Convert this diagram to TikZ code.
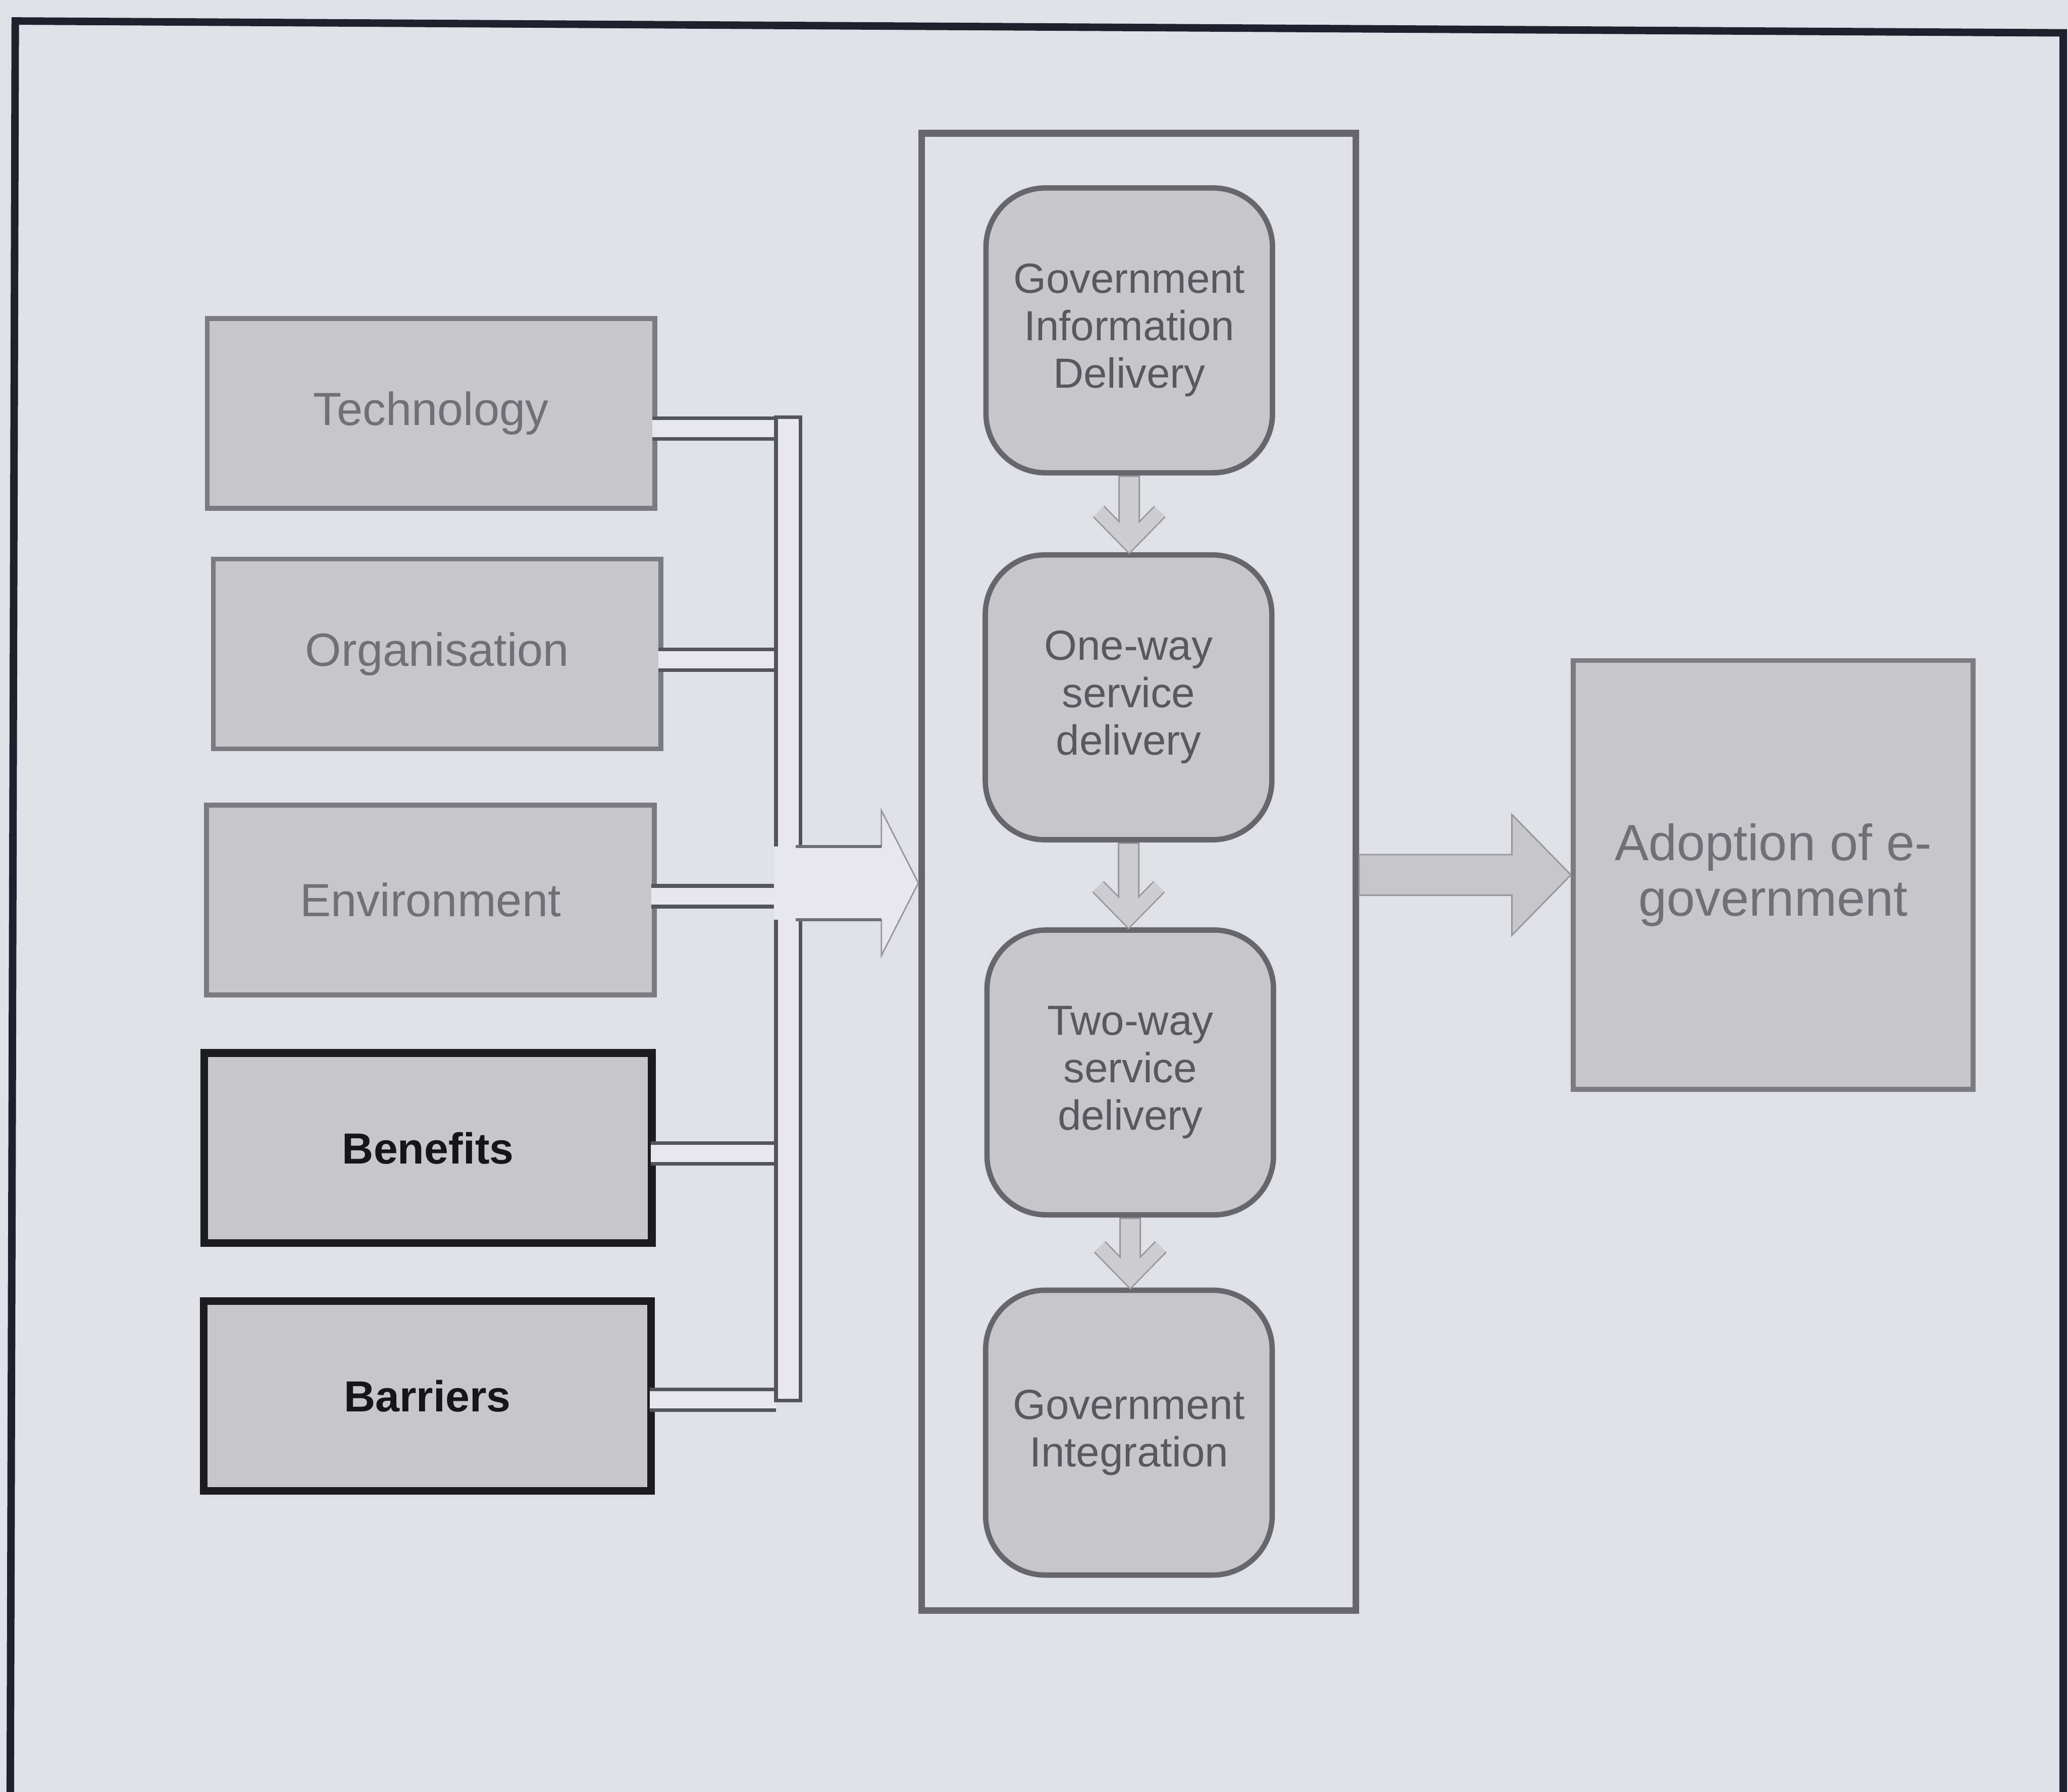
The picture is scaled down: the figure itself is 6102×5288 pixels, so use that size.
\documentclass[tikz,border=0pt]{standalone}
\usepackage{fontspec}
\setmainfont{Liberation Sans}
\usetikzlibrary{calc}

\definecolor{paper}{RGB}{224,224,232}
\definecolor{boxfill}{RGB}{198,198,203}
\definecolor{softline}{RGB}{122,122,128}
\definecolor{darkline}{RGB}{28,28,32}
\definecolor{roundline}{RGB}{102,102,108}
\definecolor{barline}{RGB}{84,84,92}
\definecolor{barfill}{RGB}{231,231,237}
\definecolor{labelgray}{RGB}{112,112,118}
\definecolor{stagetext}{RGB}{88,88,94}
\definecolor{inkdark}{RGB}{22,22,26}
\definecolor{framecol}{RGB}{30,32,44}
\definecolor{thinedge}{RGB}{150,150,156}
\definecolor{bodyedge}{RGB}{110,110,116}
\definecolor{chevfill}{RGB}{204,204,209}

\begin{document}
\begin{tikzpicture}[x=0.01cm,y=-0.01cm,
  factor/.style={draw=softline, line width=4pt, fill=boxfill,
    minimum width=13.2cm, minimum height=5.6cm, inner sep=0pt,
    text=labelgray, font=\fontsize{39}{44}\selectfont},
  keyfactor/.style={factor, draw=darkline, line width=6.5pt, text=inkdark,
    font=\fontsize{36.5}{42}\selectfont\bfseries},
  stagebox/.style={draw=roundline, line width=4.5pt, fill=boxfill,
    rounded corners=1.75cm, minimum width=8.45cm, minimum height=8.4cm,
    inner sep=0pt, align=center, text=stagetext,
    font=\fontsize{35.3}{39.8}\selectfont},
  barout/.style={draw=barline, line width=0.72cm},
  barin/.style={draw=barfill, line width=0.50cm},
  chevout/.style={draw=thinedge, line join=miter},
  chevin/.style={draw=chevfill, line join=miter}
]
\useasboundingbox (0,0) rectangle (6102,5288);
\clip (0,0) rectangle (6102,5288);
\fill[paper] (0,0) rectangle (6102,5288);

% outer frame
\draw[framecol, line width=6.3pt] (30,5400) -- (45,62) -- (6088,97) -- (6088,5400);

% influencing factors
\node[factor] (tech) at (1272,1220) {Technology};
\node[factor] (org)  at (1290,1930) {Organisation};
\node[factor] (env)  at (1270,2656) {Environment};
\node[keyfactor] (ben) at (1263,3388) {Benefits};
\node[keyfactor] (bar) at (1261,4120) {Barriers};

% collecting rail
\coordinate (railW) at (2290,1231);
\foreach \n/\dy in {tech/-0.45, org/-0.17, env/0.11, ben/-0.16, bar/-0.11} {
  \path ([xshift=-0.15cm,yshift=\dy cm]\n.east) coordinate (bs);
  \draw[barout] (bs) -- (railW |- bs);
}
\foreach \n/\dy in {tech/-0.45, org/-0.17, env/0.11, ben/-0.16, bar/-0.11} {
  \path ([xshift=-0.15cm,yshift=\dy cm]\n.east) coordinate (bs);
  \draw[barin] (bs) -- (railW |- bs);
}
\draw[barline, line width=3.2pt, fill=barfill] (railW) rectangle (2362,4133);

% stages container
\node[draw=roundline, line width=5.7pt, minimum width=12.8cm, minimum height=43.57cm,
  inner sep=0pt] (stage) at (3360,2573) {};

% arrow from the rail into the stages
\coordinate (tipL) at ([yshift=-0.33cm]stage.west);
\fill[barfill] (tipL) -- ++(-109,-214) -- ++(0,106) -- ++(-317,0) -- ++(0,216)
  -- ++(317,0) -- ++(0,106) -- cycle;
\draw[thinedge, line width=1.2pt, line join=miter]
  ($(tipL)+(-109,-106)$) -- ++(0,-108) -- (tipL) -- ++(-109,214) -- ++(0,-106);
\draw[bodyedge, line width=2.4pt]
  ($(tipL)+(-362,-108)$) -- ++(253,0)
  ($(tipL)+(-362,108)$) -- ++(253,0);

% stages
\node[stagebox] (gid)    at (3332,975)  {Government\\Information\\Delivery};
\node[stagebox] (oneway) at (3330,2058) {One-way\\service\\delivery};
\node[stagebox] (twoway) at (3335,3165) {Two-way\\service\\delivery};
\node[stagebox] (integ)  at (3331,4228) {Government\\Integration};

\foreach \a/\b in {gid/oneway, oneway/twoway, twoway/integ} {
  \path (\a.south |- \b.north) coordinate (hd);
  \draw[chevout, line width=0.64cm] (\a.south) -- ([yshift=0.3cm]hd);
  \draw[chevout, line width=0.48cm]
    ([xshift=-0.9cm,yshift=1.2cm]hd) -- ([yshift=0.28cm]hd)
    -- ([xshift=0.9cm,yshift=1.2cm]hd);
  \draw[chevin, line width=0.56cm] ([yshift=-0.04cm]\a.south) -- ([yshift=0.3cm]hd);
  \draw[chevin, line width=0.40cm]
    ([xshift=-0.9cm,yshift=1.2cm]hd) -- ([yshift=0.28cm]hd)
    -- ([xshift=0.9cm,yshift=1.2cm]hd);
}

% outcome
\node[draw=softline, line width=4pt, fill=boxfill, minimum width=11.79cm,
  minimum height=12.65cm, inner sep=0pt, align=center, text=labelgray,
  font=\fontsize{42.7}{46.4}\selectfont] (adopt) at (5232,2582)
  {Adoption of e-\\government};

\draw[thinedge, line width=1.2pt, fill=boxfill, line join=miter]
  (adopt.west) -- ++(-174,-178) -- ++(0,118) -- ($(stage.east |- adopt.west)+(0,-60)$)
  -- ($(stage.east |- adopt.west)+(0,60)$) -- ($(adopt.west)+(-174,60)$)
  -- ++(0,118) -- cycle;
\end{tikzpicture}
\end{document}
